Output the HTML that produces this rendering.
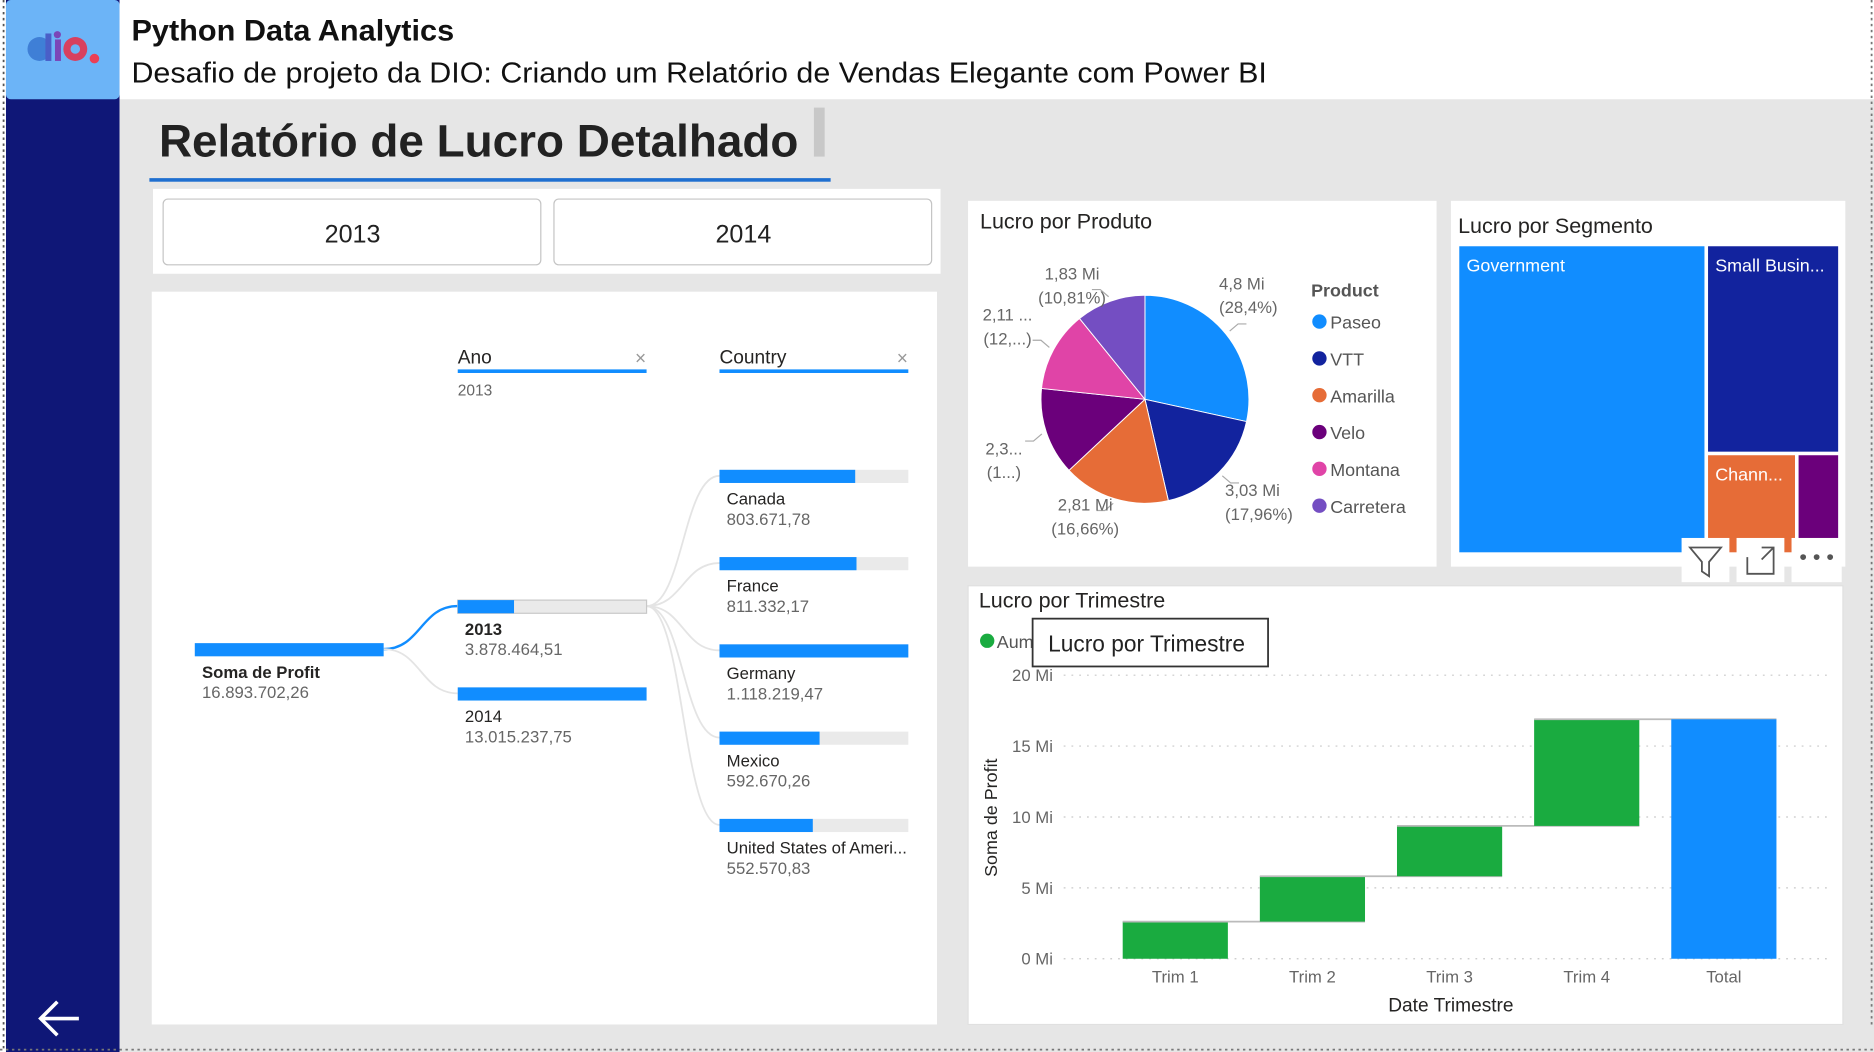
<!DOCTYPE html>
<html><head><meta charset="utf-8"><style>
html,body{margin:0;padding:0;background:#fff;}
svg{display:block;font-family:"Liberation Sans",sans-serif;}
</style></head><body>
<svg id="root" width="1874" height="1052" viewBox="0 0 1568 880" preserveAspectRatio="none" xmlns="http://www.w3.org/2000/svg">
<rect x="0" y="0" width="1568" height="880" fill="#ffffff"/>
<rect x="100" y="83" width="1468" height="797" fill="#e6e6e6"/>
<rect x="5" y="0" width="95" height="880" fill="#0f1777"/>
<rect x="5" y="0" width="95" height="83" fill="#6cb4f7" rx="4"/>
<g>
<circle cx="33" cy="41" r="10" fill="#3f7fd6"/><rect x="38" y="28" width="5" height="23" fill="#4a5fc8"/><rect x="46" y="33" width="5" height="18" fill="#7b46b8"/><circle cx="48" cy="29" r="3" fill="#7b46b8"/><circle cx="63" cy="41" r="10" fill="#d8405f"/><circle cx="63" cy="41" r="4" fill="#6cb4f7"/><circle cx="79" cy="49" r="4" fill="#ec3f55"/>
</g>
<line x1="3" y1="0" x2="3" y2="880" stroke="#555" stroke-dasharray="2,3" stroke-width="1.5"/>
<line x1="0" y1="878" x2="1568" y2="878" stroke="#777" stroke-dasharray="2,3" stroke-width="1.5"/>
<line x1="1566" y1="0" x2="1566" y2="860" stroke="#777" stroke-dasharray="2,3" stroke-width="1.5"/>
<text x="110" y="34" font-size="25" font-weight="bold" fill="#111" textLength="270" lengthAdjust="spacingAndGlyphs">Python Data Analytics</text>
<text x="110" y="69" font-size="24" fill="#111" textLength="950" lengthAdjust="spacingAndGlyphs">Desafio de projeto da DIO: Criando um Relatório de Vendas Elegante com Power BI</text>
<text x="133" y="131" font-size="38" font-weight="bold" fill="#222" textLength="535" lengthAdjust="spacingAndGlyphs">Relatório de Lucro Detalhado</text>
<rect x="681" y="90" width="9" height="41" fill="#c8c8c8"/>
<rect x="125" y="149" width="570" height="3" fill="#1f6fd0"/>
<path d="M66 852 H34 M48 838 L34 852 L48 866" stroke="#fff" stroke-width="3" fill="none"/>

<rect x="128" y="158" width="659" height="71" fill="#fff"/>
<g><rect x="136.5" y="166.5" width="316" height="55" rx="4" fill="#fff" stroke="#c4c4c4"/><text x="295" y="203" font-size="21" text-anchor="middle" fill="#222">2013</text></g>
<g><rect x="463.5" y="166.5" width="316" height="55" rx="4" fill="#fff" stroke="#c4c4c4"/><text x="622" y="203" font-size="21" text-anchor="middle" fill="#222">2014</text></g>

<rect x="127" y="244" width="657" height="613" fill="#fff"/>
<g id="tree"></g>

<rect x="810" y="168" width="392" height="306" fill="#fff"/>
<text x="820" y="191" font-size="18" fill="#252423">Lucro por Produto</text>
<g id="pie"></g>

<rect x="1214" y="168" width="330" height="306" fill="#fff"/>
<text x="1220" y="195" font-size="18" fill="#252423">Lucro por Segmento</text>
<g id="treemap"></g>
<g>
<rect x="1407" y="450" width="40" height="37" fill="#fff"/><path d="M1414 458 H1440 L1430 470 V482 L1424 478 V470 Z" fill="none" stroke="#555" stroke-width="1.5"/>
<rect x="1453" y="450" width="40" height="37" fill="#fff"/><path d="M1462 466 V480 H1484 V466 M1474 458 H1484 V468 M1484 458 L1474 468" fill="none" stroke="#555" stroke-width="1.5"/>
<rect x="1499" y="450" width="42" height="37" fill="#fff"/><text x="1520" y="472" font-size="18" text-anchor="middle" fill="#555">• • •</text>
</g>

<rect x="810" y="490" width="732" height="367" fill="#fff" stroke="#e0e0e0"/>
<text x="819" y="508" font-size="18" fill="#252423">Lucro por Trimestre</text>
<circle cx="826" cy="536" r="6" fill="#1aab40"/>
<text x="834" y="542" font-size="15" fill="#555">Aum</text>
<g id="wf"></g>
<g><rect x="864" y="517.5" width="197" height="40" fill="#fff" stroke="#333" stroke-width="1.5"/><text x="877" y="545" font-size="19" fill="#222">Lucro por Trimestre</text></g>
</svg>
<script>
const NS='http://www.w3.org/2000/svg';
function mk(p,tag,attrs,txt){const e=document.createElementNS(NS,tag);for(const k in attrs)e.setAttribute(k,attrs[k]);if(txt!==undefined)e.textContent=txt;p.appendChild(e);return e;}

// ---------- Pie data ----------
const pieProducts=['Paseo','VTT','Amarilla','Velo','Montana','Carretera'];
const pieValues=[4.8,3.03,2.81,2.3,2.11,1.83];
const pieLabelTop=['4,8 Mi','3,03 Mi','2,81 Mi','2,3...','2,11 ...','1,83 Mi'];
const pieLabelBottom=['(28,4%)','(17,96%)','(16,66%)','(1...)','(12,...)','(10,81%)'];
const pieColors=['#118dff','#12239e','#e66c37','#6b007b','#e044a7','#744ec2'];

const pie=document.getElementById('pie');
const cx=958,cy=334,R=87;
const tot=pieValues.reduce((a,b)=>a+b,0);
// label anchor layout (text position, anchor) per slice
const lblX=[1020,1025,908,840,843,897];
const lblY=[242,415,427,380,268,234];
const lblAnchor=['start','start','middle','middle','middle','middle'];
let ang=-Math.PI/2;
pieValues.forEach((v,i)=>{
  const a2=ang+v/tot*2*Math.PI;
  const x1=cx+R*Math.cos(ang),y1=cy+R*Math.sin(ang),x2=cx+R*Math.cos(a2),y2=cy+R*Math.sin(a2);
  const large=(a2-ang)>Math.PI?1:0;
  const s=mk(pie,'path',{d:`M${cx} ${cy} L${x1} ${y1} A${R} ${R} 0 ${large} 1 ${x2} ${y2} Z`,fill:pieColors[i],stroke:'#fff','stroke-width':0.8});
  
  
  const mid=(ang+a2)/2;
  const ex=cx+(R+4)*Math.cos(mid),ey=cy+(R+4)*Math.sin(mid);
  const right=Math.cos(mid)>=0;
  const hx=right?ex+14:ex-14;
  const ln=mk(pie,'path',{d:`M${ex} ${ey} L${(ex+hx)/2} ${ey+(Math.sin(mid)>0?6:-6)} H${hx}`,stroke:'#aaa',fill:'none'});
  
  
  const t1=mk(pie,'text',{x:lblX[i],y:lblY[i],'font-size':14,fill:'#666','text-anchor':lblAnchor[i]},pieLabelTop[i]);
  
  
  const t2=mk(pie,'text',{x:lblX[i],y:lblY[i]+20,'font-size':14,fill:'#666','text-anchor':lblAnchor[i]},pieLabelBottom[i]);
  
  
  ang=a2;
});
const lt=mk(pie,'text',{x:1097,y:248,'font-size':15,'font-weight':'bold',fill:'#555'},'Product');


pieProducts.forEach((p,i)=>{
  const g=mk(pie,'g',{});
  
  
  const y=269+i*30.8;
  mk(g,'circle',{cx:1104,cy:y,r:6,fill:pieColors[i]});
  mk(g,'text',{x:1113,y:y+6,'font-size':15,fill:'#555'},p);
});

// ---------- Treemap data ----------
const tmSegments=['Government','Small Busin...','Chann...',''];
const tmValues=[10.93,4.0,1.31,0.65];
const tmColors=['#118dff','#12239e','#e66c37','#6b007b'];
const tm=document.getElementById('treemap');
(function(){
  const X=1221,Y=206,W=317,H=256;
  const t=tmValues.reduce((a,b)=>a+b,0);
  const w0=W*tmValues[0]/t;
  const cells=[];
  cells.push([X,Y,w0,H]);
  const rx=X+w0+3,rw=W-w0-3,rest=t-tmValues[0];
  const h1=H*tmValues[1]/rest;
  cells.push([rx,Y,rw,h1]);
  const by=Y+h1+3,bh=H-h1-3,rest2=tmValues[2]+tmValues[3];
  const w2=rw*tmValues[2]/rest2;
  cells.push([rx,by,w2,bh]);
  cells.push([rx+w2+3,by,rw-w2-3,bh]);
  cells.forEach((c,i)=>{
    const r=mk(tm,'rect',{x:c[0],y:c[1],width:c[2],height:c[3],fill:tmColors[i]});
    
    
    if(tmSegments[i]){const tt=mk(tm,'text',{x:c[0]+6,y:c[1]+21,'font-size':15,fill:'#fff'},tmSegments[i]);
    
    }
  });
})();

// ---------- Waterfall data ----------
const wfCategories=['Trim 1','Trim 2','Trim 3','Trim 4','Total'];
const wfDeltas=[2.62,3.2,3.55,7.52];
const wfTicks=[0,5,10,15,20];
const wfTickLabels=['0 Mi','5 Mi','10 Mi','15 Mi','20 Mi'];
const wf=document.getElementById('wf');
const yS=v=>802-v*11.86;
const band=114.75,bx0=926;
const xS=i=>bx0+i*band;
const bw=88;
wfTicks.forEach((t,i)=>{
  const gl=mk(wf,'line',{x1:890,x2:1532,y1:yS(t),y2:yS(t),stroke:'#c8c8c8','stroke-dasharray':'1.5,5'});
  
  
  const tl=mk(wf,'text',{x:881,y:yS(t)+5,'font-size':14,fill:'#666','text-anchor':'end'},wfTickLabels[i]);
  
  
});
let cum=0;
wfCategories.forEach((c,i)=>{
  let lo,hi,col;
  if(i<wfDeltas.length){lo=cum;hi=cum+wfDeltas[i];cum=hi;col='#1aab40';}
  else{lo=0;hi=cum;col='#118dff';}
  const x=xS(i)+(band-bw)/2;
  const b=mk(wf,'rect',{x:x,y:yS(hi),width:bw,height:yS(lo)-yS(hi),fill:col});
  
  
  if(i<wfCategories.length-1){
    const cl=mk(wf,'line',{x1:x,x2:x+band+bw,y1:yS(hi),y2:yS(hi),stroke:'#bbb','stroke-width':1.5});
    
    
  }
  const xl=mk(wf,'text',{x:x+bw/2,y:822,'font-size':14,fill:'#666','text-anchor':'middle'},c);
  
  
});
const xt=mk(wf,'text',{x:1214,y:846,'font-size':16,fill:'#252423','text-anchor':'middle'},'Date Trimestre');


const yt=mk(wf,'text',{x:0,y:0,'font-size':15,fill:'#252423','text-anchor':'middle',transform:'translate(834,684) rotate(-90)'},'Soma de Profit');



// ---------- Decomposition tree data ----------
const treeRootValue=16893702.26;
const treeYears=['2013','2014'];
const treeYearValues=[3878464.51,13015237.75];
const treeCountries=['Canada','France','Germany','Mexico','United States of Ameri...'];
const treeCountryValues=[803671.78,811332.17,1118219.47,592670.26,552570.83];
const tree=document.getElementById('tree');
const fmt=v=>{const [a,b]=v.toFixed(2).split('.');return a.replace(/\B(?=(\d{3})+(?!\d))/g,'.')+','+b;};
function hdr(x,label,nm){
  const g=mk(tree,'g',{});
  
  
  mk(g,'text',{x:x,y:304,'font-size':16,fill:'#252423'},label);
  mk(g,'rect',{x:x,y:309,width:158,height:3,fill:'#118dff'});
  mk(g,'text',{x:x+153,y:305,'font-size':16,fill:'#999','text-anchor':'middle'},'×');
}
hdr(383,'Ano','ano-level-header');
hdr(602,'Country','country-level-header');
const af=mk(tree,'text',{x:383,y:331,'font-size':13,fill:'#666'},'2013');


const BW=158;
function node(x,y,frac,label,val,bold,selected,nm){
  const g=mk(tree,'g',{});
  
  
  mk(g,'rect',{x:x,y:y,width:BW,height:11,fill:'#eaeaea',stroke:selected?'#c8c8c8':'none'});
  mk(g,'rect',{x:x,y:y,width:BW*frac,height:11,fill:'#118dff'});
  mk(g,'text',{x:x+6,y:y+29,'font-size':14,fill:'#252423','font-weight':bold?'bold':'normal'},label);
  mk(g,'text',{x:x+6,y:y+46,'font-size':14,fill:'#666'},fmt(val));
}
function curve(x1,y1,x2,y2,col,w){
  const m=(x1+x2)/2;
  const p=mk(tree,'path',{d:`M${x1} ${y1} C${m} ${y1} ${m} ${y2} ${x2} ${y2}`,stroke:col,'stroke-width':w,fill:'none'});
  
  
}
const yearY=[502,575];
const countryY=[393,466,539,612,685];
yearY.forEach((y,i)=>curve(321,543,383,y+5,i===0?'#118dff':'#e4e4e4',i===0?2:1.5));
countryY.forEach(y=>curve(541,507,602,y+5,'#e4e4e4',1.5));
node(163,538,1,'Soma de Profit',treeRootValue,true,false,'tree-root-node');
const yMax=Math.max(...treeYearValues);
treeYears.forEach((yr,i)=>node(383,yearY[i],treeYearValues[i]/yMax,yr,treeYearValues[i],i===0,i===0,'tree-node-'+yr));
const cMax=Math.max(...treeCountryValues);
treeCountries.forEach((c,i)=>node(602,countryY[i],treeCountryValues[i]/cMax,c,treeCountryValues[i],false,false,'tree-node-'+c.split(' ')[0].toLowerCase()));
</script>
</body></html>
